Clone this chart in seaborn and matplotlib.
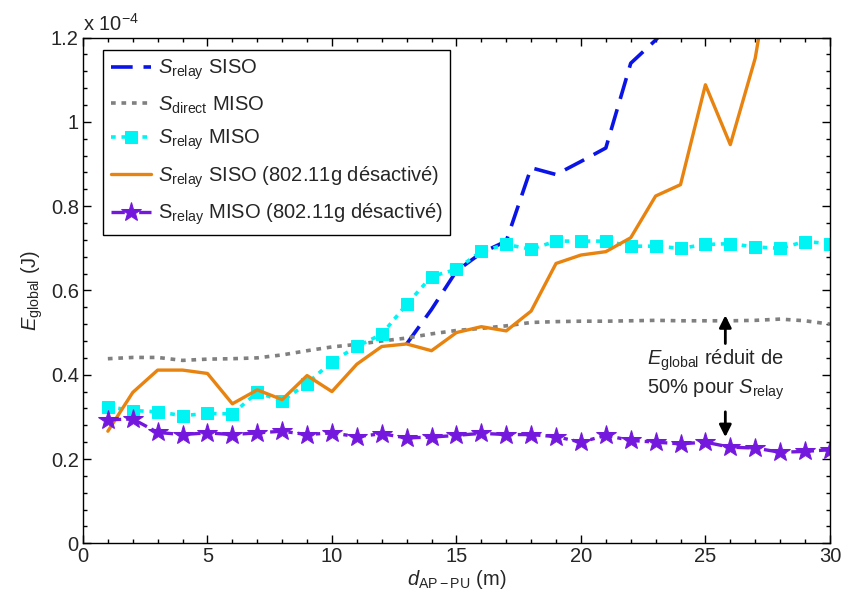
import numpy as np
import pandas as pd
import matplotlib
matplotlib.use("Agg")
import matplotlib.pyplot as plt
import seaborn as sns
from matplotlib.ticker import MultipleLocator, FuncFormatter

# ---- data (values in units of 1e-4 J) ----
d = list(range(1, 31))
relay_siso = [np.nan] * 12 + [0.473, 0.555, 0.646, 0.689, 0.717, 0.891, 0.875, 0.906,
                              0.938, 1.139, 1.194, 1.26] + [np.nan] * 6
direct_miso = [0.438, 0.441, 0.441, 0.434, 0.437, 0.438, 0.440, 0.447, 0.457, 0.466,
               0.472, 0.480, 0.487, 0.497, 0.505, 0.510, 0.516, 0.524, 0.526, 0.527,
               0.527, 0.528, 0.529, 0.528, 0.528, 0.528, 0.529, 0.532, 0.528, 0.520]
relay_miso = [0.324, 0.315, 0.312, 0.303, 0.308, 0.307, 0.358, 0.338, 0.379, 0.431,
              0.467, 0.496, 0.567, 0.633, 0.650, 0.693, 0.709, 0.698, 0.717, 0.717,
              0.717, 0.705, 0.705, 0.700, 0.709, 0.711, 0.703, 0.700, 0.716, 0.711]
relay_siso_off = [0.266, 0.358, 0.411, 0.411, 0.403, 0.331, 0.364, 0.341, 0.398, 0.360,
                  0.425, 0.467, 0.473, 0.457, 0.500, 0.514, 0.504, 0.551, 0.664, 0.684,
                  0.692, 0.725, 0.824, 0.851, 1.088, 0.946, 1.151, 1.50, np.nan, np.nan]
relay_miso_off = [0.293, 0.295, 0.263, 0.258, 0.262, 0.258, 0.262, 0.266, 0.258, 0.262,
                  0.253, 0.260, 0.250, 0.252, 0.256, 0.261, 0.258, 0.258, 0.253, 0.240,
                  0.256, 0.244, 0.240, 0.236, 0.240, 0.228, 0.226, 0.216, 0.218, 0.222]

labels = [r"$S_{\mathrm{relay}}$ SISO",
          r"$S_{\mathrm{direct}}$ MISO",
          r"$S_{\mathrm{relay}}$ MISO",
          r"$S_{\mathrm{relay}}$ SISO (802.11g désactivé)",
          r"S$_{\mathrm{relay}}$ MISO (802.11g désactivé)"]

sns.set_theme(style="ticks")
plt.rcParams['font.family'] = ['Liberation Sans', 'DejaVu Sans']
plt.rcParams['mathtext.fontset'] = 'custom'
plt.rcParams['mathtext.rm'] = 'Liberation Sans'
plt.rcParams['mathtext.it'] = 'Liberation Sans:italic'
plt.rcParams['mathtext.bf'] = 'Liberation Sans:bold'

fs = 14.5
fig = plt.figure(figsize=(8.44, 6.01), dpi=100)
ax = fig.add_axes([0.0983, 0.096, 0.885, 0.8415])

df = pd.DataFrame({"d": d, "a": relay_siso, "b": direct_miso, "c": relay_miso,
                   "e": relay_siso_off, "f": relay_miso_off})

sns.lineplot(data=df, x="d", y="a", ax=ax, color="#0A14E6", lw=2.6,
             label=labels[0]).lines[-1].set_dashes([6, 3])
sns.lineplot(data=df, x="d", y="b", ax=ax, color="#808080", lw=2.6,
             label=labels[1]).lines[-1].set_dashes([1.3, 1.6])
sns.lineplot(data=df, x="d", y="c", ax=ax, color="#00F4F4", lw=2.6, marker="s",
             markersize=9, markeredgecolor="#00F4F4", label=labels[2]).lines[-1].set_dashes([1.3, 1.6])
sns.lineplot(data=df, x="d", y="e", ax=ax, color="#E8830F", lw=2.4,
             label=labels[3])
sns.lineplot(data=df, x="d", y="f", ax=ax, color="#7418DE", lw=2.4, marker="*",
             markersize=15, markeredgecolor="#7418DE", label=labels[4]).lines[-1].set_dashes([4, 1.5, 1.3, 1.5])

ax.set_xlim(0, 30)
ax.set_ylim(0, 1.2)
ax.xaxis.set_major_locator(MultipleLocator(5))
ax.xaxis.set_minor_locator(MultipleLocator(1))
ax.yaxis.set_major_locator(MultipleLocator(0.2))
ax.yaxis.set_minor_locator(MultipleLocator(0.04))
ax.yaxis.set_major_formatter(FuncFormatter(lambda v, p: f"{v:g}"))
ax.tick_params(which="both", direction="in", top=True, right=True, labelsize=fs,
               color="black", width=1)
ax.tick_params(which="major", length=6, pad=3)
ax.tick_params(which="minor", length=3)
for s in ax.spines.values():
    s.set_color("black")
    s.set_linewidth(1)

ax.set_xlabel(r"$d_{\mathrm{AP-PU}}$ (m)", fontsize=fs, labelpad=1)
ax.set_ylabel(r"$E_{\mathrm{global}}$ (J)", fontsize=fs, labelpad=4)
ax.text(0.0, 1.006, r"x 10$^{-4}$", transform=ax.transAxes, fontsize=fs,
        ha="left", va="bottom")

leg = ax.legend(loc="upper left", bbox_to_anchor=(0.027, 0.976), borderaxespad=0,
                fontsize=fs, frameon=True, fancybox=False, edgecolor="black",
                framealpha=1, handlelength=2.0, labelspacing=0.6,
                handletextpad=0.3, borderpad=0.4)
leg.get_frame().set_linewidth(1)

ax.text(25.4, 0.40, "$E_{\\mathrm{global}}$ réduit de\n50% pour $S_{\\mathrm{relay}}$",
        fontsize=fs, ha="center", va="center", linespacing=1.25)
ax.annotate("", xy=(25.8, 0.541), xytext=(25.8, 0.474),
            arrowprops=dict(arrowstyle="-|>", color="black", lw=2, mutation_scale=18,
                            shrinkA=0, shrinkB=0))
ax.annotate("", xy=(25.8, 0.252), xytext=(25.8, 0.312),
            arrowprops=dict(arrowstyle="-|>", color="black", lw=2, mutation_scale=18,
                            shrinkA=0, shrinkB=0))

fig.savefig("out.png", dpi=100)
